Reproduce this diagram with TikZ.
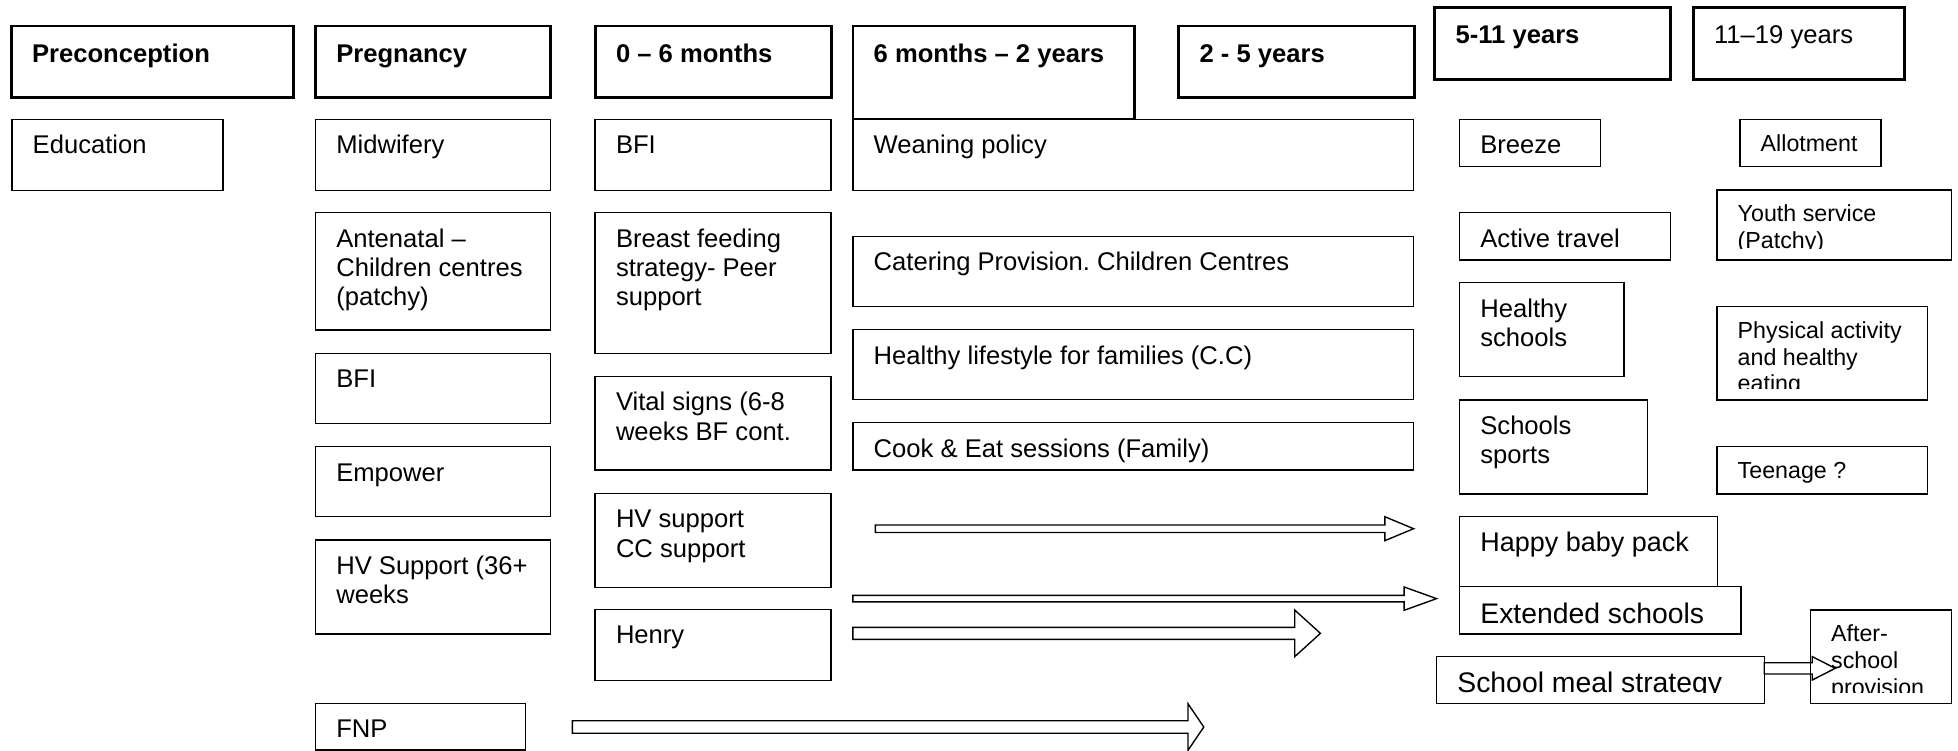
\documentclass[tikz,border=0pt]{standalone}
\usepackage{fontspec}
\setmainfont{Liberation Sans}
\frenchspacing

% Hollow block arrow: tail, tip, shaft half width, head half width, head length.
\newcommand{\fatarrow}[5]{%
  \draw[blockarrow] ([yshift=#3]#1) -- ([xshift=-#5,yshift=#3]#2) -- ([xshift=-#5,yshift=#4]#2)
    -- (#2) -- ([xshift=-#5,yshift=-#4]#2) -- ([xshift=-#5,yshift=-#3]#2) -- ([yshift=-#3]#1) -- cycle;}

\begin{document}
\begin{tikzpicture}[
  x=1pt,
  y=-1pt,
  box/.style={draw,line width=1.1pt,anchor=north west,inner sep=0pt,outer sep=0pt},
  hdr/.style={box,line width=2.2pt},
  txt/.style={anchor=north west,inner sep=0pt,align=left,font=\fontsize{20.5}{23.6}\selectfont},
  hdrtxt/.style={txt,font=\fontsize{20.5}{23.6}\selectfont\bfseries},
  smalltxt/.style={txt,font=\fontsize{18.6}{21.3}\selectfont},
  bigtxt/.style={txt,font=\fontsize{22.7}{26}\selectfont},
  blockarrow/.style={draw,line width=1.1pt}
]
  \useasboundingbox (0,0) rectangle (1568,601);

  % Age band headers along the top.
  \foreach \nm/\x/\y/\w/\h/\st/\txt in {
    pre/9/20.8/226/57/hdrtxt/Preconception,
    preg/252.6/20.8/188/57/hdrtxt/Pregnancy,
    zsix/476.6/20.8/189/57/hdrtxt/{0 – 6 months},
    stwo/683/20.8/225.6/74.5/hdrtxt/{6 months – 2 years},
    tfive/944/20.8/188.5/57/hdrtxt/{2 - 5 years},
    fel/1149/5.9/189/57.6/hdrtxt/{5-11 years},
    eln/1356/5.9/169/57.6/txt/{11–19 years}} {
    \node[hdr,minimum width=\w,minimum height=\h] (\nm) at (\x,\y) {};
    \node[\st] (\nm-t) at ([xshift=16.5pt,yshift=-12.6pt]\nm.north west) {\strut\txt};
  }

  % Services under each band.
  \foreach \nm/\x/\y/\w/\h/\txt in {
    edu/9.5/95.6/169/56.8/Education,
    mid/252.6/95.6/188/56.8/Midwifery,
    ant/252.6/170.3/188/94/{Antenatal –\\Children centres\\(patchy)},
    bfa/252.6/283/188/56/BFI,
    emp/252.6/357.7/188/56/Empower,
    hvs/252.6/432.4/188/75.3/{HV Support (36+\\weeks},
    fnp/252.6/563.3/168.4/37.3/FNP,
    bfb/476.6/95.6/189/56.8/BFI,
    bfs/476.6/170.3/189/112.7/{Breast feeding\\strategy- Peer\\support},
    vit/476.6/301.6/189/74.8/{Vital signs (6-8\\weeks BF cont.},
    hvc/476.6/395/189/75.4/{HV support\\CC support},
    hen/476.6/488/189/57.1/Henry,
    wean/683/95.6/449/56.8/Weaning policy,
    cat/683/189.5/449/56.1/Catering Provision. Children Centres,
    hlf/683/264/449/56/Healthy lifestyle for families (C.C),
    cook/683/338.5/449/37.9/Cook \& Eat sessions (Family),
    brz/1168.8/95.6/112.9/37.9/Breeze,
    act/1168.8/170.3/169/37.9/Active travel,
    hsc/1168.8/226.4/131.6/75.3/{Healthy\\schools},
    ssp/1168.8/320.3/150.3/75.3/{Schools\\sports}} {
    \node[box,minimum width=\w,minimum height=\h] (\nm) at (\x,\y) {};
    \node[txt] (\nm-t) at ([xshift=16.5pt,yshift=-10.8pt]\nm.north west) {\strut\txt};
  }

  \foreach \nm/\x/\y/\w/\h/\txt in {
    alt/1393.3/95.6/113/37.9/Allotment,
    tee/1374.9/357.7/168.5/37.9/{Teenage ?}} {
    \node[box,minimum width=\w,minimum height=\h] (\nm) at (\x,\y) {};
    \node[smalltxt] (\nm-t) at ([xshift=16.5pt,yshift=-10.6pt]\nm.north west) {\strut\txt};
  }

  \node[box,minimum width=206.4,minimum height=56] (hbp) at (1168.8,413.8) {};
  \node[txt,font=\fontsize{21.6}{24.8}\selectfont] (hbp-t) at ([xshift=16.5pt,yshift=-10.6pt]hbp.north west) {\strut Happy baby pack};
  \node[box,minimum width=225.4,minimum height=37.9] (ext) at (1168.8,469.8) {};
  \node[bigtxt] (ext-t) at ([xshift=16.5pt,yshift=-11.2pt]ext.north west) {\strut Extended schools};

  % Boxes whose text runs past the bottom and is cut off.
  \foreach \nm/\x/\y/\w/\h/\st/\txt in {
    yth/1374.9/152.2/187.7/56/smalltxt/{Youth service\\(Patchy)},
    phy/1374.9/245.6/168.5/74.7/smalltxt/{Physical activity\\and healthy\\eating},
    aft/1449.7/488.5/112.9/74.8/smalltxt/{After-\\school\\provision},
    sml/1150.4/525.9/262.4/37.4/bigtxt/{School meal strategy}} {
    \node[box,minimum width=\w,minimum height=\h] (\nm) at (\x,\y) {};
    \begin{scope}
      \clip (\nm.north west) rectangle ([yshift=9pt]\nm.south east);
      \node[\st] (\nm-t) at ([xshift=16.5pt,yshift=-10.4pt]\nm.north west) {\strut\txt};
    \end{scope}
  }

  % Block arrows carrying services on to later ages.
  \coordinate (a1t) at (701,423.4);
  \coordinate (a1h) at (wean.east |- a1t);
  \coordinate (a2t) at (683,479.4);
  \coordinate (a2h) at (sml.west |- a2t);
  \coordinate (a3t) at (683,507.2);
  \coordinate (a3h) at (1057.4,507.2);
  \coordinate (a4t) at (458.4,582.2);
  \coordinate (a4h) at (964,582.2);
  \coordinate (a5t) at ([yshift=9.4pt]sml.east);
  \coordinate (a5h) at ([xshift=56.9pt]a5t);

  \fatarrow{a1t}{a1h}{3pt}{9.6pt}{23pt}
  \fatarrow{a2t}{a2h}{2.6pt}{9.35pt}{26pt}
  \fatarrow{a3t}{a3h}{4.8pt}{18.7pt}{20.6pt}
  \fatarrow{a4t}{a4h}{5pt}{18.6pt}{12.6pt}
  \fatarrow{a5t}{a5h}{4.5pt}{9.35pt}{18.4pt}
\end{tikzpicture}
\end{document}
